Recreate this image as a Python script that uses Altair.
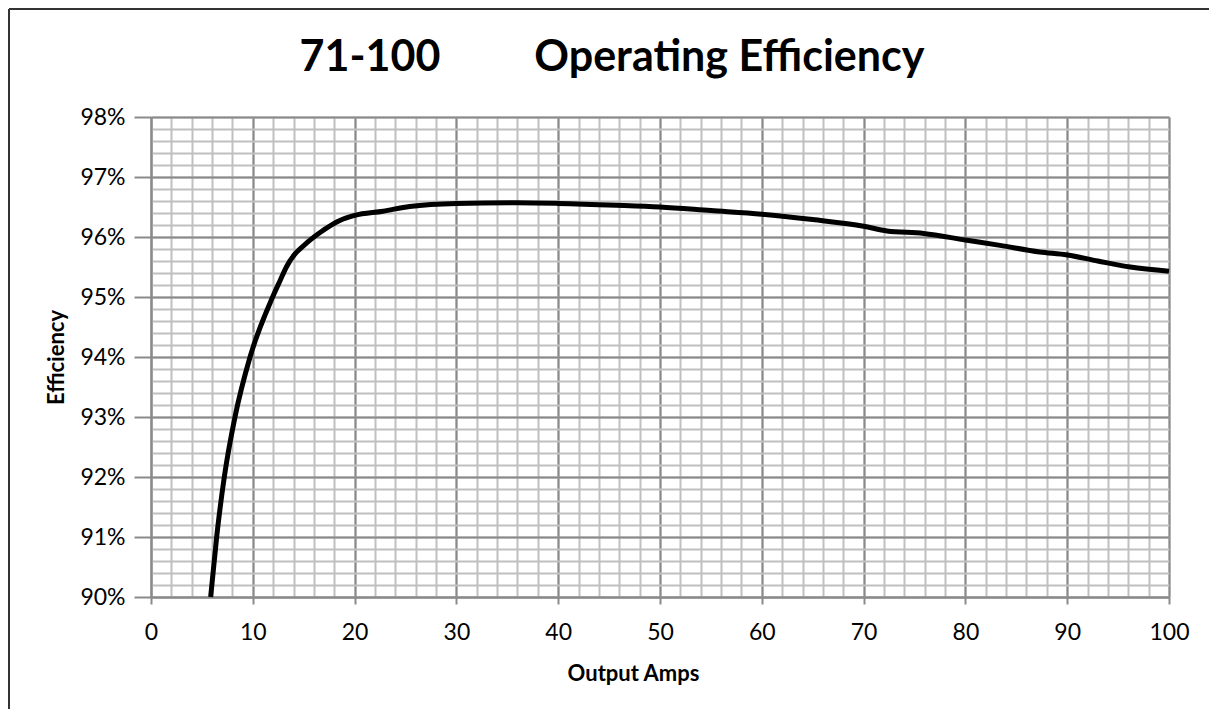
import altair as alt
import pandas as pd

amps = [5.86, 6.45, 7.2, 8.25, 9.73, 11.95, 12.7, 13.3, 15.5, 16.9, 18.6, 20.0, 22.8,
        25.4, 30.0, 36.0, 40.0, 45.7, 50.0, 55.0, 60.0, 65.0, 70.0, 72.3, 75.9, 80.0,
        83.4, 87.3, 90.0, 93.0, 96.2, 100.0]
eff = [90.0, 91.0, 92.0, 93.0, 94.0, 95.0, 95.28, 95.5, 95.93, 96.11, 96.28, 96.36, 96.43,
       96.51, 96.56, 96.57, 96.56, 96.53, 96.50, 96.44, 96.38, 96.29, 96.18, 96.10, 96.06, 95.95,
       95.86, 95.75, 95.70, 95.60, 95.50, 95.43]

x_major = [0, 10, 20, 30, 40, 50, 60, 70, 80, 90, 100]
y_major = [90, 91, 92, 93, 94, 95, 96, 97, 98]
x_minor = list(range(0, 101, 2))
y_minor = [90 + i * 0.2 for i in range(41)]

TITLE = "71-100\u00a0\u00a0\u00a0\u00a0\u00a0\u00a0\u00a0\u00a0\u00a0Operating Efficiency"

df = pd.DataFrame({"amps": amps, "eff": eff})

FONT = "Lato"
xs = alt.Scale(domain=[0, 100], nice=False, zero=False)
ys = alt.Scale(domain=[90, 98], nice=False, zero=False)

minor = alt.Chart(df).mark_line(opacity=0).encode(
    x=alt.X("amps:Q", scale=xs, axis=alt.Axis(
        orient="bottom", values=x_minor, grid=True, gridColor="#c0c0c0", gridWidth=2,
        labels=False, ticks=False, domain=False, title=None)),
    y=alt.Y("eff:Q", scale=ys, axis=alt.Axis(
        orient="left", values=y_minor, grid=True, gridColor="#c0c0c0", gridWidth=2,
        labels=False, ticks=False, domain=False, title=None)),
)

main = alt.Chart(df).mark_line(color="black", strokeWidth=5, interpolate="monotone").encode(
    x=alt.X("amps:Q", scale=xs, axis=alt.Axis(
        orient="bottom", values=x_major, grid=True, gridColor="#8a8a8a", gridWidth=2,
        domainColor="#8a8a8a", domainWidth=2, tickColor="#8a8a8a", tickWidth=2, tickSize=7,
        labelFont=FONT, labelFontSize=23, labelColor="black", labelBaseline="alphabetic",
        labelPadding=35, labelFlush=False,
        title="Output Amps", titleFont=FONT, titleFontSize=22, titleFontWeight="bold",
        titleColor="black", titleX=482, titleY=83, titleBaseline="alphabetic")),
    y=alt.Y("eff:Q", scale=ys, axis=alt.Axis(
        orient="left", values=y_major, grid=True, gridColor="#8a8a8a", gridWidth=2,
        domainColor="#8a8a8a", domainWidth=2, tickColor="#8a8a8a", tickWidth=2, tickSize=17,
        labelFont=FONT, labelFontSize=23, labelColor="black", labelPadding=9,
        labelExpr="datum.value + '%'", labelFlush=False,
        title="Efficiency", titleFont=FONT, titleFontSize=22, titleFontWeight="bold",
        titleColor="black", titleX=-95, titleY=240, titleAngle=-90, titleAlign="center",
        titleBaseline="middle")),
)

title = alt.Chart().mark_text(
    font=FONT, fontSize=43, fontWeight="bold", color="black",
    align="center", baseline="alphabetic",
).encode(text=alt.value(TITLE), x=alt.value(461), y=alt.value(-46))

border_left = alt.Chart().mark_rule(color="#333333", strokeWidth=2).encode(
    x=alt.value(-142), y=alt.value(-108), y2=alt.value(592))
border_top = alt.Chart().mark_rule(color="#333333", strokeWidth=2).encode(
    x=alt.value(-142), x2=alt.value(1060), y=alt.value(-108))

chart = alt.layer(minor, main, title, border_left, border_top).resolve_axis(
    x="independent", y="independent"
).properties(
    width=1018, height=480,
    autosize=alt.AutoSizeParams(type="none"),
    padding={"left": 143, "top": 109, "right": 40, "bottom": 112},
).configure_view(stroke="#8a8a8a", strokeWidth=2).configure(background="white")

chart.save("out.html", embed_options={"renderer": "svg", "actions": False})
